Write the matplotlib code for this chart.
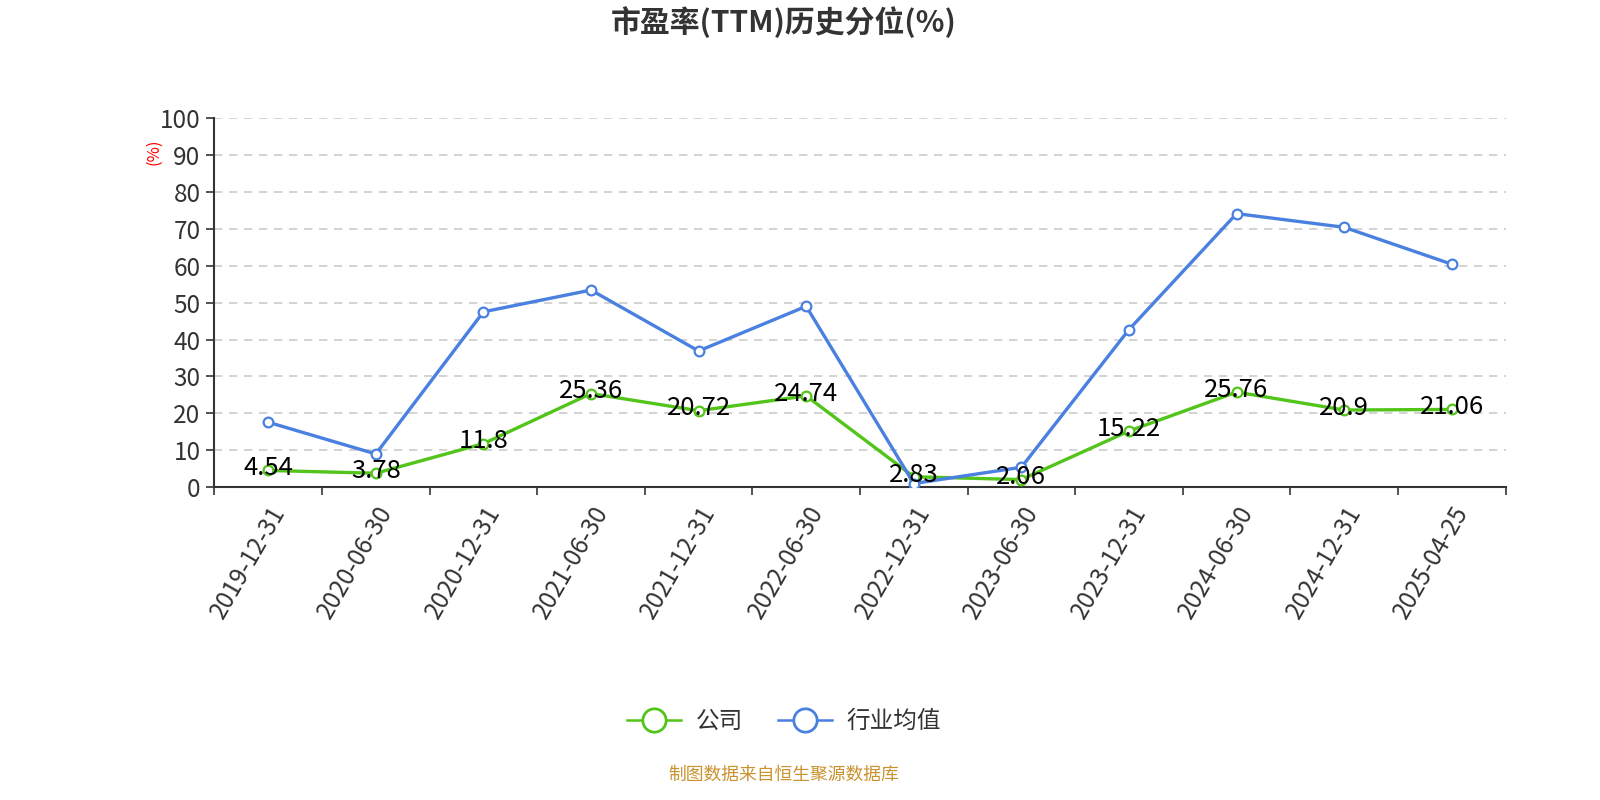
import numpy as np
import matplotlib
matplotlib.use("Agg")
import matplotlib.pyplot as plt
from matplotlib.ticker import FixedLocator, NullFormatter

plt.rcParams["font.family"] = ["Noto Sans CJK SC", "DejaVu Sans"]

dates = ["2019-12-31", "2020-06-30", "2020-12-31", "2021-06-30", "2021-12-31",
         "2022-06-30", "2022-12-31", "2023-06-30", "2023-12-31", "2024-06-30",
         "2024-12-31", "2025-04-25"]
company = [4.54, 3.78, 11.8, 25.36, 20.72, 24.74, 2.83, 2.06, 15.22, 25.76, 20.9, 21.06]
industry = [17.6, 9.0, 47.5, 53.4, 36.9, 49.0, 1.0, 5.4, 42.7, 74.1, 70.4, 60.4]

GREEN = "#52c41a"
BLUE = "#4a80e0"

fig = plt.figure(figsize=(16, 8), dpi=100)
ax = fig.add_axes([0.134, 0.391, 0.807, 0.4615])

x = np.arange(len(dates))
mk = dict(marker="o", markersize=7, markerfacecolor="white", markeredgewidth=1.6)
ax.plot(x, company, color=GREEN, lw=2.4, label="公司", markeredgecolor=GREEN, zorder=3, **mk)
ax.plot(x, industry, color=BLUE, lw=2.4, label="行业均值", markeredgecolor=BLUE, zorder=4, **mk)

for xi, v in zip(x, company):
    ax.text(xi, v + 0.6, f"{v:g}", ha="center", va="center", fontsize=18.5,
            color="black", zorder=6)

ax.set_xlim(-0.5, len(dates) - 0.5)
ax.set_ylim(0, 100)
ax.set_yticks(np.arange(0, 101, 10))
ax.xaxis.set_major_locator(FixedLocator(np.arange(-0.5, len(dates), 1)))
ax.xaxis.set_major_formatter(NullFormatter())
ax.set_xticks(x, minor=True)
ax.set_xticklabels(dates, minor=True, rotation=60, ha="right", va="top",
                   rotation_mode="anchor", fontsize=17.5, color="#333333")
ax.tick_params(axis="x", which="minor", length=0, pad=10)
ax.tick_params(axis="x", which="major", length=6, width=1.2, color="#333333")
ax.tick_params(axis="y", length=6, width=1.2, color="#333333", labelsize=17.5,
               labelcolor="#333333", pad=4)

ax.grid(axis="y", linestyle=(0, (5, 4)), color="#cccccc", lw=1.2)
ax.set_axisbelow(True)
for s in ["top", "right"]:
    ax.spines[s].set_visible(False)
for s in ["left", "bottom"]:
    ax.spines[s].set_color("#333333")
    ax.spines[s].set_linewidth(1.5)

fig.text(0.096, 0.81, "(%)", rotation=90, color="red", fontsize=12,
         ha="center", va="center")

fig.text(0.49, 0.972, "市盈率(TTM)历史分位(%)", ha="center", va="center",
         fontsize=21.5, fontweight="bold", color="#333333")

leg = fig.legend(loc="center", bbox_to_anchor=(0.49, 0.098), ncol=2, frameon=False,
                 fontsize=17, handlelength=2.3, columnspacing=1.5, handletextpad=0.6,
                 markerscale=2.4, labelcolor="#333333")
for h in leg.legend_handles:
    h.set_linewidth(1.8)
    h.set_markeredgewidth(2.0)

fig.text(0.49, 0.031, "制图数据来自恒生聚源数据库", ha="center", va="center",
         fontsize=12.8, color="#c9922d")

fig.savefig("out.png", dpi=100)
